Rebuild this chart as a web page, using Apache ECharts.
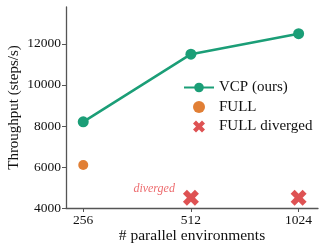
<!DOCTYPE html>
<html>
<head>
<meta charset="utf-8">
<script src="https://cdn.jsdelivr.net/npm/echarts@6/dist/echarts.min.js"></script>
<style>
  html, body { margin: 0; padding: 0; background: #fff; }
  #chart { width: 324px; height: 252px; }
</style>
</head>
<body>
<div id="chart"></div>
<script>
  // 横轴类别 (环境数)
  const envCounts = ['256', '512', '1024'];
  const yTicks = [4000, 6000, 8000, 10000, 12000];
  // 各系列数值, 下标对应 envCounts
  const vcp = [8200, 11500, 12500];
  const full = [6100, null, null];
  const fullDiverged = [null, 4500, 4500];

  const font = 'Liberation Serif';
  const xShape = 'path://M0 6L6 0L12 6L18 0L24 6L18 12L24 18L18 24L12 18L6 24L0 18L6 12Z';

  function pts(arr) {
    return arr.map((v, i) => v == null ? null : [i, v]).filter(p => p);
  }

  const myChart = echarts.init(document.getElementById('chart'));
  myChart.setOption({
    animation: false,
    grid: { left: 66, right: 6, top: 7, bottom: 44, outerBoundsMode: 'none' },
    legend: {
      orient: 'vertical',
      left: 183,
      top: 80,
      padding: 0,
      itemWidth: 30,
      itemHeight: 12,
      itemGap: 4.5,
      textStyle: { fontFamily: font, fontSize: 15, color: '#111' },
      data: ['VCP (ours)', 'FULL', 'FULL diverged']
    },
    xAxis: {
      type: 'value',
      min: -0.16,
      max: 2.18,
      name: '# parallel environments',
      nameLocation: 'middle',
      nameGap: 20,
      nameMoveOverlap: false,
      nameTextStyle: { fontFamily: font, fontSize: 15.5, color: '#111' },
      splitLine: { show: false },
      axisLine: { onZero: false, lineStyle: { color: '#555', width: 1.3 } },
      axisTick: { customValues: [0, 1, 2], length: 4, lineStyle: { color: '#555' } },
      axisLabel: {
        customValues: [0, 1, 2],
        formatter: v => envCounts[Math.round(v)],
        fontFamily: font, fontSize: 13.5, color: '#111', margin: 5
      }
    },
    yAxis: {
      type: 'value',
      min: 4000,
      max: 13800,
      name: 'Throughput (steps/s)',
      nameLocation: 'middle',
      nameGap: 44,
      nameMoveOverlap: false,
      nameTextStyle: { fontFamily: font, fontSize: 15, color: '#111' },
      splitLine: { show: false },
      axisLine: { show: true, onZero: false, lineStyle: { color: '#555', width: 1.3 } },
      axisTick: { show: true, customValues: yTicks, length: 4, lineStyle: { color: '#555' } },
      axisLabel: {
        customValues: yTicks,
        formatter: v => String(v),
        fontFamily: font, fontSize: 13.5, color: '#111', margin: 5
      }
    },
    series: [
      {
        name: 'VCP (ours)',
        type: 'line',
        data: pts(vcp),
        symbol: 'circle',
        symbolSize: 11,
        itemStyle: { color: '#1b9e77' },
        lineStyle: { color: '#1b9e77', width: 2.5 }
      },
      {
        name: 'FULL',
        type: 'scatter',
        data: pts(full),
        symbol: 'circle',
        symbolSize: 10,
        itemStyle: { color: '#d95f02' }
      },
      {
        name: 'FULL diverged',
        type: 'scatter',
        symbol: xShape,
        symbolSize: 16,
        itemStyle: { color: '#d62728' },
        data: pts(fullDiverged).map((p, k) => k === 0 ? {
          value: p,
          label: {
            show: true,
            formatter: 'diverged',
            position: 'left',
            distance: 5,
            offset: [-3, -9],
            fontFamily: font,
            fontStyle: 'italic',
            fontSize: 12,
            color: '#e8474b'
          }
        } : p)
      }
    ]
  });
</script>
</body>
</html>
